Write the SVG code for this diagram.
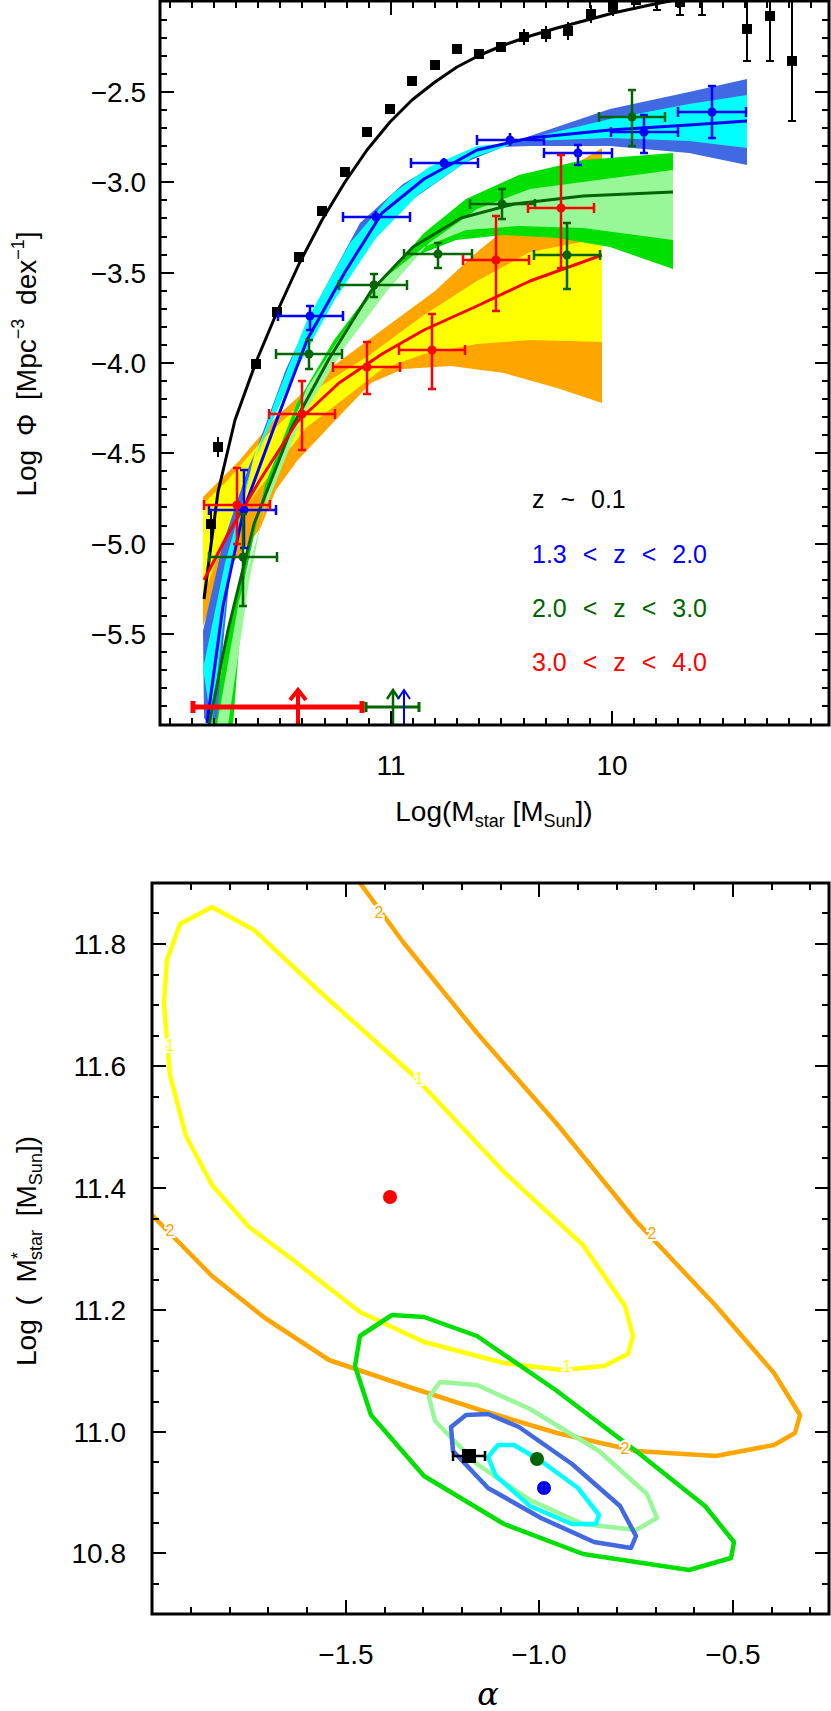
<svg xmlns="http://www.w3.org/2000/svg" width="831" height="1711" viewBox="0 0 831 1711">
<style>
text{font-family:"Liberation Sans",Arial,sans-serif;fill:#000}
.tk{font-size:28px}
.frame{fill:none;stroke:#000;stroke-width:3}
.tick{stroke:#000;stroke-width:2}
.ln{fill:none;stroke-width:3;stroke-linejoin:round}
.eb path{fill:none;stroke-width:2.5}
.eb circle{stroke:none}
.ct{fill:none;stroke-width:4.5;stroke-linejoin:round}
.cl{font-size:16px;stroke:#fff;stroke-width:4;paint-order:stroke}
</style>
<defs>
<clipPath id="c1"><rect x="160" y="0" width="669" height="725"/></clipPath>
<clipPath id="c2"><rect x="152" y="883" width="677" height="731"/></clipPath>
</defs>
<rect width="831" height="1711" fill="#fff"/>
<g id="top-panel">
<g clip-path="url(#c1)">
<polygon fill="#ffa500" points="203,497 239,461 276,417 329,369 382,330 435,291 477,252 519,218 557,175 602,148 602,403 557,388 504,373 451,366 403,369 371,383 329,427 297,461 276,490 260,529 233,563 212,601 203,626"/>
<polygon fill="#ffff00" points="203,504 228,480 265,437 318,388 371,354 424,315 477,281 530,252 602,238 602,342 530,340 477,344 424,354 382,369 345,398 307,427 276,466 244,509 217,558 203,597"/>
<polygon fill="#00e000" points="212,725 233,606 260,509 297,412 339,340 382,281 424,233 466,199 519,175 583,160 673,153 673,269 610,247 557,238 504,235 456,240 413,257 371,291 334,340 297,403 265,485 244,582 233,725"/>
<polygon fill="#98f898" points="217,725 239,601 265,509 302,417 345,347 387,291 429,243 477,209 530,189 673,170 673,240 583,228 519,226 466,230 424,247 387,276 345,330 307,388 270,480 249,582 228,725"/>
<polygon fill="#4169e1" points="203,631 223,543 249,466 286,383 329,306 371,243 413,199 466,162 530,136 610,109 689,92 747,79 747,165 689,153 610,146 530,146 477,148 435,165 403,184 360,223 318,301 286,369 254,456 233,543 223,645 217,718 209,725 204,718"/>
<polygon fill="#00ffff" points="203,669 225,563 254,461 292,378 334,301 376,238 419,194 472,158 530,138 610,119 689,104 747,95 747,148 689,141 610,138 530,141 477,146 429,167 392,194 350,243 307,320 276,398 246,485 228,582 217,679 212,725"/>
<polyline class="ln" stroke="#000" points="204,599 211,545 218,492 235,420 256,362 277,312 299,264 322,220 345,182 367,150 390,122 412,100 435,82 457,67 480,55 504,45 530,36 557,28 591,19 613,13 650,5 690,-3"/>
<polyline class="ln" stroke="#0000ff" points="207,723 223,606 244,509 276,422 307,340 345,272 382,213 424,179 477,150 530,138 610,130 689,125 747,121"/>
<polyline class="ln" stroke="#006400" points="209,725 228,630 254,524 292,427 329,359 371,291 413,247 461,218 514,204 583,196 673,192"/>
<polyline class="ln" stroke="#ff0000" points="204,580 228,534 260,480 297,422 339,383 382,354 424,330 477,306 530,281 602,255"/>
<g fill="#000" stroke="#000" stroke-width="2">
<rect x="207" y="520" width="8" height="8"/><line x1="211" y1="510" x2="211" y2="540"/>
<rect x="214" y="443" width="8" height="8"/><line x1="218" y1="437" x2="218" y2="457"/>
<rect x="252" y="360" width="8" height="8"/><rect x="273" y="308" width="8" height="8"/>
<rect x="295" y="253" width="8" height="8"/><rect x="318" y="207" width="8" height="8"/>
<rect x="341" y="168" width="8" height="8"/><rect x="363" y="128" width="8" height="8"/>
<rect x="386" y="105" width="8" height="8"/><rect x="408" y="77" width="8" height="8"/>
<rect x="431" y="61" width="8" height="8"/><rect x="453" y="45" width="8" height="8"/>
<rect x="475" y="50" width="8" height="8"/><rect x="497" y="43" width="8" height="8"/>
<rect x="520" y="33" width="8" height="8"/><line x1="524" y1="29" x2="524" y2="45"/>
<rect x="542" y="30" width="8" height="8"/><line x1="546" y1="26" x2="546" y2="42"/>
<rect x="564" y="27" width="8" height="8"/><line x1="568" y1="22" x2="568" y2="40"/>
<rect x="587" y="10" width="8" height="8"/><line x1="591" y1="5" x2="591" y2="23"/>
<rect x="609" y="3" width="8" height="8"/><line x1="613" y1="0" x2="613" y2="16"/>
<rect x="632" y="-4" width="8" height="8"/>
<line x1="657" y1="0" x2="657" y2="10"/><line x1="653" y1="10" x2="661" y2="10"/>
<rect x="676" y="-2" width="8" height="8"/><line x1="680" y1="0" x2="680" y2="15"/><line x1="676" y1="15" x2="684" y2="15"/>
<line x1="702" y1="0" x2="702" y2="15"/><line x1="698" y1="15" x2="706" y2="15"/>
<rect x="743" y="25" width="8" height="8"/><line x1="747" y1="0" x2="747" y2="61"/><line x1="743" y1="61" x2="751" y2="61"/>
<rect x="766" y="12" width="8" height="8"/><line x1="770" y1="0" x2="770" y2="61"/><line x1="766" y1="61" x2="774" y2="61"/>
<rect x="788" y="57" width="8" height="8"/><line x1="792" y1="0" x2="792" y2="121"/><line x1="788" y1="121" x2="796" y2="121"/>
</g>
<g stroke="#0000ff" fill="#0000ff" class="eb">
<path d="M209,510H276M244,470V548M209,505v10M276,505v10M240,470h8M240,548h8"/><circle cx="244" cy="510" r="4.5"/>
<path d="M278,316H343M310,306V330M278,311v10M343,311v10M306,306h8M306,330h8"/><circle cx="310" cy="316" r="4.5"/>
<path d="M343,217H410M376,211V223M343,212v10M410,212v10"/><circle cx="376" cy="217" r="4.5"/>
<path d="M411,163H478M444,158V169M411,158v10M478,158v10"/><circle cx="444" cy="163" r="4.5"/>
<path d="M477,140H544M510,133V146M477,135v10M544,135v10"/><circle cx="510" cy="140" r="4.5"/>
<path d="M544,153H612M578,145V165M544,148v10M612,148v10M574,145h8M574,165h8"/><circle cx="578" cy="153" r="4.5"/>
<path d="M611,132H678M644,115V153M611,127v10M678,127v10M640,115h8M640,153h8"/><circle cx="644" cy="132" r="4.5"/>
<path d="M678,112H746M712,86V138M678,107v10M746,107v10M708,86h8M708,138h8"/><circle cx="712" cy="112" r="4.5"/>
</g>
<g stroke="#006400" fill="#006400" class="eb">
<path d="M209,557H277M243,514V606M209,552v10M277,552v10M239,514h8M239,606h8"/><circle cx="243" cy="557" r="4.5"/>
<path d="M276,354H342M309,340V369M276,349v10M342,349v10M305,340h8M305,369h8"/><circle cx="309" cy="354" r="4.5"/>
<path d="M339,285H407M374,274V297M339,280v10M407,280v10M370,274h8M370,297h8"/><circle cx="374" cy="285" r="4.5"/>
<path d="M404,254H472M438,243V268M404,249v10M472,249v10M434,243h8M434,268h8"/><circle cx="438" cy="254" r="4.5"/>
<path d="M470,204H535M502,189V219M470,199v10M535,199v10M498,189h8M498,219h8"/><circle cx="502" cy="204" r="4.5"/>
<path d="M534,255H600M567,223V289M534,250v10M600,250v10M563,223h8M563,289h8"/><circle cx="567" cy="255" r="4.5"/>
<path d="M599,117H665M632,90V146M599,112v10M665,112v10M628,90h8M628,146h8"/><circle cx="632" cy="117" r="4.5"/>
</g>
<g stroke="#ff0000" fill="#ff0000" class="eb">
<path d="M204,505H270M237,468V544M204,500v10M270,500v10M233,468h8M233,544h8"/><circle cx="237" cy="505" r="4.5"/>
<path d="M269,414H335M302,381V450M269,409v10M335,409v10M298,381h8M298,450h8"/><circle cx="302" cy="414" r="4.5"/>
<path d="M333,367H400M367,342V394M333,362v10M400,362v10M363,342h8M363,394h8"/><circle cx="367" cy="367" r="4.5"/>
<path d="M399,350H465M432,314V389M399,345v10M465,345v10M428,314h8M428,389h8"/><circle cx="432" cy="350" r="4.5"/>
<path d="M463,260H529M496,216V311M463,255v10M529,255v10M492,216h8M492,311h8"/><circle cx="496" cy="260" r="4.5"/>
<path d="M528,208H594M561,155V268M528,203v10M594,203v10M557,155h8M557,268h8"/><circle cx="561" cy="208" r="4.5"/>
</g>
<g fill="none" stroke-linejoin="miter">
<path d="M193,707H362M193,701v12M362,701v12" stroke="#ff0000" stroke-width="5"/>
<path d="M298,725V692M290,700L298,690L306,700" stroke="#ff0000" stroke-width="4"/>
<path d="M366,707H419M366,702v10M419,702v10" stroke="#006400" stroke-width="3"/>
<path d="M393,725V692M387,699L393,690L399,699" stroke="#006400" stroke-width="2.5"/>
<path d="M404,725V692M398,699L404,690L410,699" stroke="#0000ff" stroke-width="2"/>
</g>
</g>
<rect class="frame" x="160" y="1" width="669" height="724"/>
<path class="tick" d="M160,92h14M160,182h14M160,273h14M160,363h14M160,453h14M160,544h14M160,634h14M829,92h-14M829,182h-14M829,273h-14M829,363h-14M829,453h-14M829,544h-14M829,634h-14"/>
<path class="tick" d="M160,20h7M160,38h7M160,56h7M160,74h7M160,110h7M160,128h7M160,146h7M160,164h7M160,200h7M160,218h7M160,237h7M160,255h7M160,291h7M160,309h7M160,327h7M160,345h7M160,381h7M160,399h7M160,417h7M160,435h7M160,471h7M160,489h7M160,507h7M160,526h7M160,562h7M160,580h7M160,598h7M160,616h7M160,652h7M160,670h7M160,688h7M160,706h7"/>
<path class="tick" d="M829,20h-7M829,38h-7M829,56h-7M829,74h-7M829,110h-7M829,128h-7M829,146h-7M829,164h-7M829,200h-7M829,218h-7M829,237h-7M829,255h-7M829,291h-7M829,309h-7M829,327h-7M829,345h-7M829,381h-7M829,399h-7M829,417h-7M829,435h-7M829,471h-7M829,489h-7M829,507h-7M829,526h-7M829,562h-7M829,580h-7M829,598h-7M829,616h-7M829,652h-7M829,670h-7M829,688h-7M829,706h-7"/>
<path class="tick" d="M391,725v-14M612,725v-14M391,1v14M612,1v14M170,725v-7M192,725v-7M214,725v-7M236,725v-7M258,725v-7M280,725v-7M302,725v-7M325,725v-7M347,725v-7M369,725v-7M413,725v-7M435,725v-7M457,725v-7M479,725v-7M501,725v-7M524,725v-7M546,725v-7M568,725v-7M590,725v-7M634,725v-7M656,725v-7M678,725v-7M700,725v-7M723,725v-7M745,725v-7M767,725v-7M789,725v-7M811,725v-7"/>
<path class="tick" d="M170,1v7M192,1v7M214,1v7M236,1v7M258,1v7M280,1v7M302,1v7M325,1v7M347,1v7M369,1v7M413,1v7M435,1v7M457,1v7M479,1v7M501,1v7M524,1v7M546,1v7M568,1v7M590,1v7M634,1v7M656,1v7M678,1v7M700,1v7M723,1v7M745,1v7M767,1v7M789,1v7M811,1v7"/>
<g class="tk" text-anchor="end">
<text x="146" y="102">−2.5</text><text x="146" y="192">−3.0</text><text x="146" y="283">−3.5</text><text x="146" y="373">−4.0</text><text x="146" y="463">−4.5</text><text x="146" y="554">−5.0</text><text x="146" y="644">−5.5</text>
</g>
<g class="tk" text-anchor="middle"><text x="391" y="775">11</text><text x="612" y="775">10</text></g>
<text class="tk" x="494" y="821" text-anchor="middle">Log(M<tspan font-size="18" dy="6">star</tspan><tspan dy="-6"> [M</tspan><tspan font-size="18" dy="6">Sun</tspan><tspan dy="-6">])</tspan></text>
<text class="tk" transform="translate(36,364) rotate(-90)" text-anchor="middle" word-spacing="6">Log Φ [Mpc<tspan font-size="18" dy="-12">−3</tspan><tspan dy="12"> dex</tspan><tspan font-size="18" dy="-12">−1</tspan><tspan dy="12">]</tspan></text>
<g font-size="25" word-spacing="9">
<text x="532" y="508" style="fill:#000">z ~ 0.1</text>
<text x="532" y="563" style="fill:#0000ff">1.3 &lt; z &lt; 2.0</text>
<text x="532" y="617" style="fill:#006400">2.0 &lt; z &lt; 3.0</text>
<text x="532" y="671" style="fill:#ff0000">3.0 &lt; z &lt; 4.0</text>
</g>
</g>
<g id="bottom-panel">
<g clip-path="url(#c2)">
<polygon class="ct" stroke="#ffff00" points="212,907 180,924 167,960 164,1003 170,1075 186,1136 212,1185 249,1227 297,1263 360,1312 424,1342 504,1363 562,1370 604,1366 628,1354 633,1336 625,1306 583,1245 504,1172 413,1075 318,990 254,930"/>
<polyline class="ct" stroke="#ffa500" points="360,883 403,942 477,1033 557,1124 636,1221 716,1306 774,1373 800,1415 795,1433 774,1445 716,1456 636,1451 557,1433 477,1409 403,1385 329,1360 265,1318 212,1276 152,1215"/>
<polygon class="ct" stroke="#00e000" points="392,1315 360,1336 355,1366 371,1415 424,1476 504,1524 583,1554 689,1570 731,1558 734,1542 705,1506 636,1451 557,1391 477,1336 424,1317"/>
<polygon class="ct" stroke="#98f898" points="440,1382 429,1397 435,1421 477,1464 530,1500 583,1524 636,1530 657,1518 647,1494 599,1451 530,1409 477,1385"/>
<polygon class="ct" stroke="#4169e1" points="466,1415 451,1427 453,1451 488,1488 541,1518 594,1542 631,1548 636,1536 620,1506 572,1464 519,1427 488,1414"/>
<polygon class="ct" stroke="#00ffff" points="498,1445 488,1457 496,1476 530,1506 572,1524 596,1524 599,1515 578,1488 541,1461 514,1445"/>
<g class="cl" text-anchor="middle">
<text x="170" y="1051" style="fill:#ffff00">1</text><text x="419" y="1084" style="fill:#ffff00">1</text><text x="567" y="1372" style="fill:#ffff00">1</text>
<text x="379" y="918" style="fill:#ffa500">2</text><text x="652" y="1239" style="fill:#ffa500">2</text><text x="170" y="1236" style="fill:#ffa500">2</text><text x="625" y="1454" style="fill:#ffa500">2</text>
</g>
<circle cx="390" cy="1197" r="7" fill="#ff0000"/>
<circle cx="537" cy="1459" r="7" fill="#006400"/>
<circle cx="544" cy="1488" r="7" fill="#0000ff"/>
<path d="M453,1456H485M453,1451v10M485,1451v10" stroke="#000" stroke-width="2.5" fill="none"/>
<rect x="462" y="1449" width="14" height="14" fill="#000"/>
</g>
<rect class="frame" x="152" y="883" width="677" height="731"/>
<path class="tick" d="M152,944h14M152,1066h14M152,1188h14M152,1310h14M152,1432h14M152,1553h14M829,944h-14M829,1066h-14M829,1188h-14M829,1310h-14M829,1432h-14M829,1553h-14"/>
<path class="tick" d="M152,913h7M152,975h7M152,1005h7M152,1036h7M152,1097h7M152,1127h7M152,1158h7M152,1219h7M152,1249h7M152,1280h7M152,1341h7M152,1371h7M152,1402h7M152,1462h7M152,1493h7M152,1523h7M152,1584h7"/>
<path class="tick" d="M829,913h-7M829,975h-7M829,1005h-7M829,1036h-7M829,1097h-7M829,1127h-7M829,1158h-7M829,1219h-7M829,1249h-7M829,1280h-7M829,1341h-7M829,1371h-7M829,1402h-7M829,1462h-7M829,1493h-7M829,1523h-7M829,1584h-7"/>
<path class="tick" d="M346,1614v-14M539,1614v-14M733,1614v-14M346,883v14M539,883v14M733,883v14"/>
<path class="tick" d="M191,1614v-7M230,1614v-7M268,1614v-7M307,1614v-7M385,1614v-7M423,1614v-7M462,1614v-7M501,1614v-7M578,1614v-7M617,1614v-7M656,1614v-7M694,1614v-7M772,1614v-7M810,1614v-7"/>
<path class="tick" d="M191,883v7M230,883v7M268,883v7M307,883v7M385,883v7M423,883v7M462,883v7M501,883v7M578,883v7M617,883v7M656,883v7M694,883v7M772,883v7M810,883v7"/>
<g class="tk" text-anchor="end">
<text x="126" y="954">11.8</text><text x="126" y="1076">11.6</text><text x="126" y="1198">11.4</text><text x="126" y="1320">11.2</text><text x="126" y="1442">11.0</text><text x="126" y="1563">10.8</text>
</g>
<g class="tk" text-anchor="middle"><text x="346" y="1664">−1.5</text><text x="539" y="1664">−1.0</text><text x="733" y="1664">−0.5</text></g>
<text x="488" y="1705" text-anchor="middle" font-size="32" font-style="italic" style="font-family:'DejaVu Serif',serif">α</text>
<text class="tk" transform="translate(36,1251) rotate(-90)" text-anchor="middle" word-spacing="6">Log ( M<tspan font-size="18" dy="-12">*</tspan><tspan font-size="18" dx="-8" dy="18">star</tspan><tspan dy="-6"> [M</tspan><tspan font-size="18" dy="6">Sun</tspan><tspan dy="-6">])</tspan></text>
</g>
</svg>
